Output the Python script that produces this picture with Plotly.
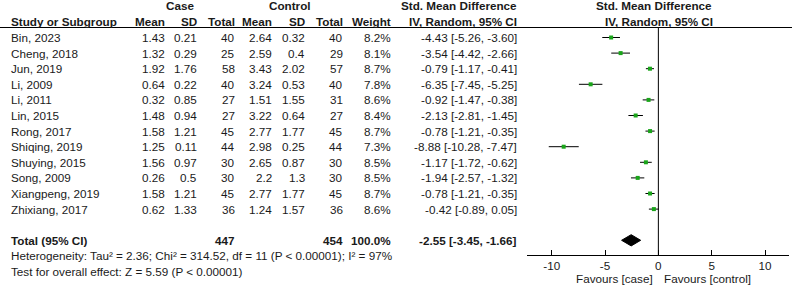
import plotly.graph_objects as go

studies = ["Bin, 2023", "Cheng, 2018", "Jun, 2019", "Li, 2009", "Li, 2011", "Lin, 2015",
           "Rong, 2017", "Shiqing, 2019", "Shuying, 2015", "Song, 2009", "Xiangpeng, 2019",
           "Zhixiang, 2017"]
case_mean = [1.43, 1.32, 1.92, 0.64, 0.32, 1.48, 1.58, 1.25, 1.56, 0.26, 1.58, 0.62]
case_sd = [0.21, 0.29, 1.76, 0.22, 0.85, 0.94, 1.21, 0.11, 0.97, 0.5, 1.21, 1.33]
case_n = [40, 25, 58, 40, 27, 27, 45, 44, 30, 30, 45, 36]
ctrl_mean = [2.64, 2.59, 3.43, 3.24, 1.51, 3.22, 2.77, 2.98, 2.65, 2.2, 2.77, 1.24]
ctrl_sd = [0.32, 0.4, 2.02, 0.53, 1.55, 0.64, 1.77, 0.25, 0.87, 1.3, 1.77, 1.57]
ctrl_n = [40, 29, 57, 40, 31, 27, 45, 44, 30, 30, 45, 36]
weight = [8.2, 8.1, 8.7, 7.8, 8.6, 8.4, 8.7, 7.3, 8.5, 8.5, 8.7, 8.6]
smd = [-4.43, -3.54, -0.79, -6.35, -0.92, -2.13, -0.78, -8.88, -1.17, -1.94, -0.78, -0.42]
ci_lo = [-5.26, -4.42, -1.17, -7.45, -1.47, -2.81, -1.21, -10.28, -1.72, -2.57, -1.21, -0.89]
ci_hi = [-3.60, -2.66, -0.41, -5.25, -0.38, -1.45, -0.35, -7.47, -0.62, -1.32, -0.35, 0.05]

total_case_n = 447
total_ctrl_n = 454
total_weight = 100.0
total_smd = -2.55
total_lo = -3.45
total_hi = -1.66

heterogeneity = "Heterogeneity: Tau² = 2.36; Chi² = 314.52, df = 11 (P < 0.00001); I² = 97%"
overall = "Test for overall effect: Z = 5.59 (P < 0.00001)"
xticks = [-10, -5, 0, 5, 10]

W, H = 800, 286
ROW0, ROWH = 37.5, 15.6
FONT = "Arial, Liberation Sans, sans-serif"
TXT = "#1a1a1a"
FS = 11.7

def px2row(py):
    return (py - ROW0) / ROWH

n = len(studies)
rows = list(range(n))
total_row = n + 1
het_row = total_row + 1
test_row = total_row + 2

fig = go.Figure()

# CI lines
for i in rows:
    fig.add_trace(go.Scatter(x=[ci_lo[i], ci_hi[i]], y=[i, i], mode="lines",
                             line=dict(color="black", width=1), hoverinfo="skip",
                             showlegend=False))
# point estimates
fig.add_trace(go.Scatter(x=smd, y=rows, mode="markers",
                         marker=dict(symbol="square", size=4, color="#1aa51a",
                                     line=dict(width=0)),
                         showlegend=False, hoverinfo="skip"))
# diamond
dh = 0.36
fig.add_trace(go.Scatter(x=[total_lo, total_smd, total_hi, total_smd, total_lo],
                         y=[total_row, total_row - dh, total_row, total_row + dh, total_row],
                         mode="lines", fill="toself", fillcolor="black",
                         line=dict(color="black", width=1), showlegend=False,
                         hoverinfo="skip"))

axis_row = px2row(255)
head_line_row = px2row(27.5)

shapes = [
    dict(type="line", xref="paper", yref="y", x0=0, x1=0.99, y0=head_line_row,
         y1=head_line_row, line=dict(color="black", width=1.2)),
    dict(type="line", xref="x", yref="y", x0=0, x1=0, y0=head_line_row, y1=axis_row,
         line=dict(color="black", width=1)),
]

ann = []

def t(x, y, text, anchor="right", bold=False, xref="paper"):
    if bold:
        text = "<b>" + text + "</b>"
    ann.append(dict(x=x if xref != "paper" else x / W, y=y, xref=xref, yref="y",
                    text=text, showarrow=False, xanchor=anchor, yanchor="middle",
                    font=dict(family=FONT, size=FS, color=TXT), borderpad=0))

# column x (right edges, pixels)
cx = dict(study=10, cmean=166, csd=198, cn=236, kmean=273, ksd=306, kn=344,
          w=392, ci=518)

# headers
hr1 = px2row(5.5)
hr2 = px2row(21.5)
t(180, hr1, "Case", "center", True)
t(290, hr1, "Control", "center", True)
t(cx["ci"], hr1, "Std. Mean Difference", "right", True)
t(654, hr1, "Std. Mean Difference", "center", True)
t(cx["study"], hr2, "Study or Subgroup", "left", True)
t(cx["cmean"], hr2, "Mean", "right", True)
t(cx["csd"], hr2, "SD", "right", True)
t(cx["cn"], hr2, "Total", "right", True)
t(cx["kmean"], hr2, "Mean", "right", True)
t(cx["ksd"], hr2, "SD", "right", True)
t(cx["kn"], hr2, "Total", "right", True)
t(cx["w"], hr2, "Weight", "right", True)
t(cx["ci"], hr2, "IV, Random, 95% CI", "right", True)
t(659, hr2, "IV, Random, 95% CI", "center", True)

for i in rows:
    t(cx["study"], i, studies[i], "left")
    t(cx["cmean"], i, f"{case_mean[i]:g}")
    t(cx["csd"], i, f"{case_sd[i]:g}")
    t(cx["cn"], i, f"{case_n[i]}")
    t(cx["kmean"], i, f"{ctrl_mean[i]:g}")
    t(cx["ksd"], i, f"{ctrl_sd[i]:g}")
    t(cx["kn"], i, f"{ctrl_n[i]}")
    t(cx["w"], i, f"{weight[i]:.1f}%")
    t(cx["ci"], i, f"{smd[i]:.2f} [{ci_lo[i]:.2f}, {ci_hi[i]:.2f}]")

t(cx["study"], total_row, "Total (95% CI)", "left", True)
t(cx["cn"], total_row, f"{total_case_n}", "right", True)
t(cx["kn"], total_row, f"{total_ctrl_n}", "right", True)
t(cx["w"], total_row, f"{total_weight:.1f}%", "right", True)
t(cx["ci"], total_row, f"{total_smd:.2f} [{total_lo:.2f}, {total_hi:.2f}]", "right", True)
t(cx["study"], het_row, heterogeneity, "left")
t(cx["study"], test_row, overall, "left")

fav_row = px2row(278)
t(-0.45, fav_row, "Favours [case]", "right", xref="x")
t(0.4, fav_row, "Favours [control]", "left", xref="x")

fig.update_layout(
    width=W, height=H, margin=dict(l=0, r=0, t=0, b=0),
    paper_bgcolor="white", plot_bgcolor="white",
    showlegend=False, shapes=shapes, annotations=ann,
    xaxis=dict(domain=[527 / W, 789 / W], range=[-12.32, 12.25], anchor="free",
               position=1 - 255 / H, showline=True, linecolor="black", linewidth=1,
               ticks="inside", ticklen=5, tickcolor="black", tickvals=xticks,
               ticktext=[str(v) for v in xticks], showgrid=False, zeroline=False,
               tickfont=dict(family=FONT, size=FS, color=TXT), fixedrange=True),
    yaxis=dict(domain=[0, 1], range=[px2row(H), px2row(0)], visible=False,
               showgrid=False, zeroline=False, fixedrange=True),
)

fig.write_html("out.html", config={"displayModeBar": False},
               post_script="document.body.style.margin='0';document.body.style.overflow='hidden';")
